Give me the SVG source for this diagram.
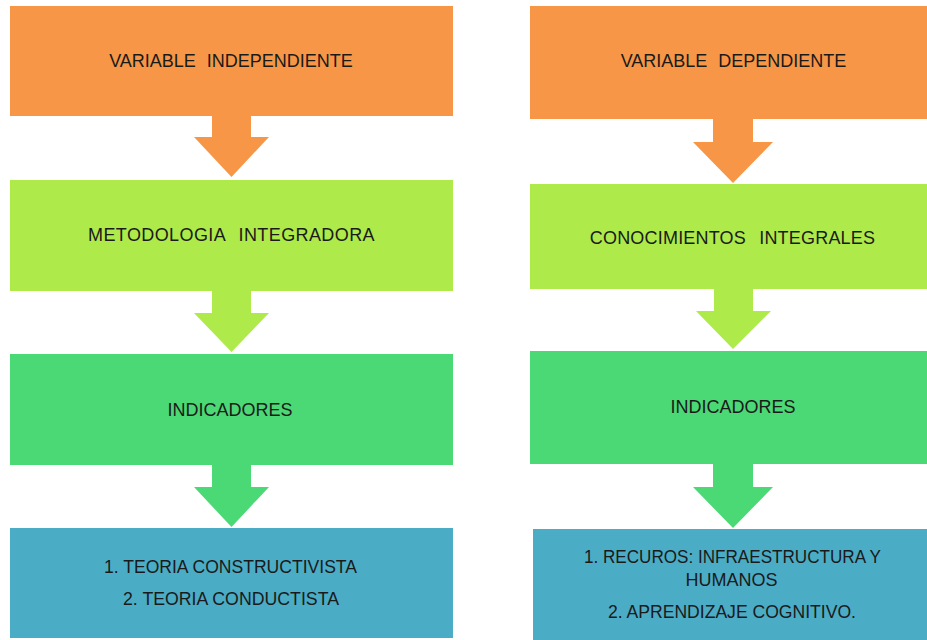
<svg xmlns="http://www.w3.org/2000/svg" width="927" height="640" viewBox="0 0 927 640">
<style>
.t{font-family:"Liberation Sans",Arial,sans-serif;font-size:18px;fill:#1a1a1a;text-anchor:middle}
.o{fill:#F79646}.lg{fill:#AEEA4A}.g{fill:#4AD975}.b{fill:#4BACC6}
</style>
<rect width="927" height="640" fill="#ffffff"/>
<g id="connectors">
<polygon class="o" points="212,115 251,115 251,137 269,137 231.5,177 194,137 212,137"/>
<polygon class="lg" points="212,290 251,290 251,313 269,313 231.5,352 194,313 212,313"/>
<polygon class="g" points="212,464 251,464 251,487 269,487 231.5,527 194,487 212,487"/>
<polygon class="o" points="713,118 753,118 753,142 773,142 733,183 693,142 713,142"/>
<polygon class="lg" points="714,288 753,288 753,311 771,311 733,349 696,311 714,311"/>
<polygon class="g" points="713,464 753,464 753,487 773,487 733,528 693,487 713,487"/>
</g>
<g id="var-independiente">
<rect class="o" x="10" y="6" width="443" height="110"/>
<text class="t" x="231" y="67" word-spacing="6">VARIABLE INDEPENDIENTE</text>
</g>
<g id="metodologia">
<rect class="lg" x="10" y="180" width="443" height="111"/>
<text class="t" x="231.5" y="241" word-spacing="8" letter-spacing="0.4">METODOLOGIA INTEGRADORA</text>
</g>
<g id="indicadores-izq">
<rect class="g" x="10" y="354" width="443" height="111"/>
<text class="t" x="230" y="416">INDICADORES</text>
</g>
<g id="teorias">
<rect class="b" x="10" y="528" width="443" height="110"/>
<text class="t" x="230.5" y="573" textLength="253" lengthAdjust="spacingAndGlyphs">1. TEORIA CONSTRUCTIVISTA</text>
<text class="t" x="231" y="605" textLength="216" lengthAdjust="spacingAndGlyphs">2. TEORIA CONDUCTISTA</text>
</g>
<g id="var-dependiente">
<rect class="o" x="530" y="6" width="397" height="113"/>
<text class="t" x="733.5" y="67" word-spacing="6">VARIABLE DEPENDIENTE</text>
</g>
<g id="conocimientos">
<rect class="lg" x="530" y="184" width="397" height="105"/>
<text class="t" x="732.5" y="244" word-spacing="8" letter-spacing="0.2">CONOCIMIENTOS INTEGRALES</text>
</g>
<g id="indicadores-der">
<rect class="g" x="530" y="351" width="397" height="113"/>
<text class="t" x="733" y="413">INDICADORES</text>
</g>
<g id="recursos">
<rect class="b" x="533" y="529" width="394" height="111"/>
<text class="t" x="732.5" y="563" textLength="297" lengthAdjust="spacingAndGlyphs">1. RECUROS: INFRAESTRUCTURA Y</text>
<text class="t" x="731.5" y="586">HUMANOS</text>
<text class="t" x="732" y="618" textLength="248" lengthAdjust="spacingAndGlyphs">2. APRENDIZAJE COGNITIVO.</text>
</g>
</svg>
